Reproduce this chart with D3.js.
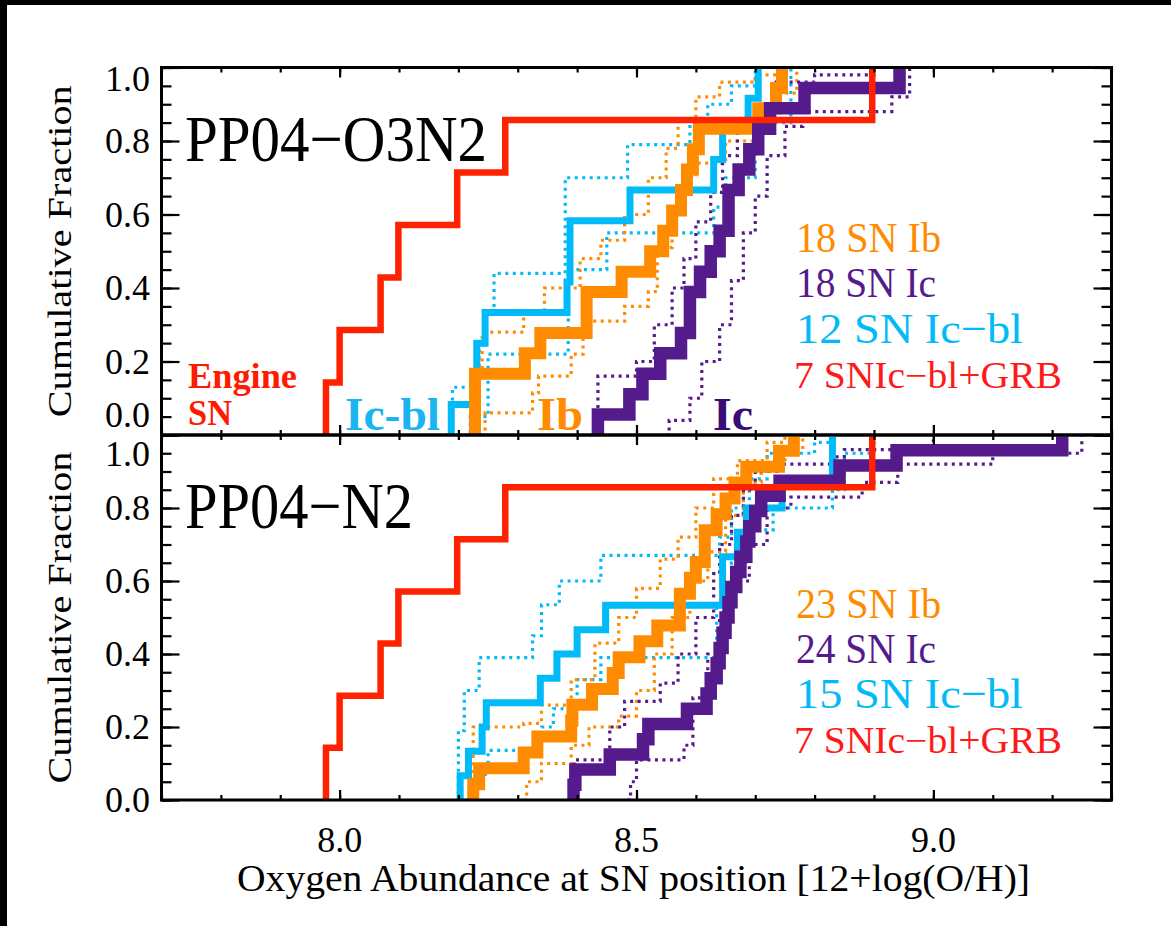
<!DOCTYPE html>
<html>
<head>
<meta charset="utf-8">
<script src="https://cdn.jsdelivr.net/npm/d3@7"></script>
<style>
  html, body { margin: 0; padding: 0; background: #fff; }
  svg { display: block; }
</style>
</head>
<body>
<script>
// axis ticks
const xTicks = [8.0, 8.5, 9.0];
const yTicks = [0.0, 0.2, 0.4, 0.6, 0.8, 1.0];

// PP04-O3N2 : sorted metallicities at SN positions
const o3n2Grb = [7.977, 8.0, 8.069, 8.099, 8.198, 8.279, 8.897];
const o3n2Icbl = [8.188, 8.231, 8.231, 8.245, 8.383, 8.388, 8.388, 8.489, 8.630, 8.645, 8.688, 8.705];
const o3n2Ib = [8.228, 8.228, 8.228, 8.312, 8.338, 8.416, 8.416, 8.475, 8.523, 8.545, 8.56, 8.575, 8.585, 8.595, 8.605, 8.705, 8.735, 8.745];
const o3n2Ic = [8.435, 8.488, 8.51, 8.54, 8.575, 8.59, 8.59, 8.607, 8.625, 8.64, 8.655, 8.655, 8.672, 8.69, 8.705, 8.725, 8.783, 8.943];

// PP04-O3N2 : bootstrap bounds, [abundance, fraction reached there]
const o3n2IcblHi = [[8.185, 0], [8.19, 0.13], [8.225, 0.17], [8.235, 0.25], [8.245, 0.33], [8.26, 0.44], [8.38, 0.70], [8.485, 0.79], [8.59, 0.86], [8.62, 0.9], [8.66, 0.95], [8.70, 1.0]];
const o3n2IcblLo = [[8.21, 0], [8.22, 0.05], [8.25, 0.22], [8.385, 0.45], [8.45, 0.55], [8.63, 0.62], [8.65, 0.7], [8.70, 0.85], [8.76, 1.0]];
const o3n2IbHi = [[8.225, 0], [8.23, 0.15], [8.24, 0.28], [8.31, 0.33], [8.345, 0.40], [8.405, 0.48], [8.44, 0.53], [8.48, 0.60], [8.52, 0.70], [8.55, 0.78], [8.57, 0.86], [8.60, 0.92], [8.64, 0.96], [8.70, 0.98], [8.745, 1.0]];
const o3n2IbLo = [[8.24, 0], [8.245, 0.06], [8.325, 0.115], [8.335, 0.16], [8.39, 0.22], [8.41, 0.31], [8.48, 0.35], [8.52, 0.39], [8.535, 0.51], [8.56, 0.62], [8.58, 0.7], [8.6, 0.74], [8.65, 0.8], [8.7, 0.85], [8.73, 0.93], [8.77, 1.0]];
const o3n2IcHi = [[8.43, 0], [8.435, 0.16], [8.50, 0.2], [8.53, 0.3], [8.56, 0.4], [8.58, 0.48], [8.60, 0.58], [8.625, 0.66], [8.645, 0.76], [8.67, 0.85], [8.70, 0.9], [8.73, 0.96], [8.80, 0.98], [8.90, 1.0]];
const o3n2IcLo = [[8.55, 0], [8.555, 0.04], [8.59, 0.1], [8.61, 0.2], [8.64, 0.3], [8.66, 0.42], [8.68, 0.55], [8.70, 0.65], [8.72, 0.76], [8.75, 0.84], [8.78, 0.88], [8.93, 0.92], [8.96, 1.0]];

// PP04-N2 : sorted metallicities at SN positions
const n2Grb = [7.977, 8.0, 8.069, 8.099, 8.198, 8.279, 8.897];
const n2Icbl = [8.203, 8.217, 8.24, 8.247, 8.338, 8.366, 8.40, 8.448, 8.645, 8.645, 8.67, 8.685, 8.745, 8.83, 8.83];
const n2Ib = [8.225, 8.235, 8.31, 8.333, 8.39, 8.392, 8.425, 8.46, 8.47, 8.505, 8.535, 8.573, 8.573, 8.59, 8.60, 8.615, 8.615, 8.635, 8.65, 8.665, 8.685, 8.74, 8.765];
const n2Ic = [8.394, 8.397, 8.455, 8.511, 8.52, 8.585, 8.618, 8.625, 8.635, 8.64, 8.645, 8.65, 8.655, 8.66, 8.668, 8.675, 8.685, 8.69, 8.70, 8.71, 8.741, 8.842, 8.938, 9.217];

// PP04-N2 : bootstrap bounds
const n2IcblHi = [[8.197, 0], [8.20, 0.19], [8.21, 0.3], [8.235, 0.39], [8.325, 0.45], [8.34, 0.535], [8.37, 0.60], [8.44, 0.67], [8.64, 0.72], [8.66, 0.8], [8.69, 0.88], [8.72, 0.95], [8.80, 0.98], [8.83, 1.0]];
const n2IcblLo = [[8.21, 0], [8.22, 0.07], [8.25, 0.136], [8.34, 0.2], [8.36, 0.25], [8.40, 0.33], [8.44, 0.39], [8.635, 0.53], [8.66, 0.65], [8.69, 0.74], [8.73, 0.80], [8.83, 0.85], [8.85, 0.95], [8.90, 1.0]];
const n2IbHi = [[8.22, 0], [8.225, 0.2], [8.31, 0.21], [8.34, 0.26], [8.39, 0.33], [8.43, 0.43], [8.47, 0.5], [8.50, 0.58], [8.54, 0.66], [8.57, 0.72], [8.60, 0.8], [8.63, 0.88], [8.67, 0.93], [8.72, 0.98], [8.75, 1.0]];
const n2IbLo = [[8.31, 0], [8.315, 0.05], [8.34, 0.1], [8.39, 0.15], [8.42, 0.2], [8.47, 0.23], [8.5, 0.3], [8.53, 0.4], [8.56, 0.5], [8.59, 0.6], [8.62, 0.68], [8.65, 0.78], [8.68, 0.87], [8.71, 0.92], [8.75, 0.96], [8.78, 1.0]];
const n2IcHi = [[8.39, 0], [8.395, 0.11], [8.455, 0.2], [8.48, 0.27], [8.54, 0.32], [8.57, 0.4], [8.60, 0.5], [8.63, 0.62], [8.64, 0.7], [8.66, 0.78], [8.68, 0.85], [8.70, 0.9], [8.74, 0.92], [8.83, 0.94], [8.85, 0.96], [9.0, 1.0]];
const n2IcLo = [[8.485, 0], [8.49, 0.05], [8.50, 0.11], [8.58, 0.15], [8.595, 0.28], [8.62, 0.4], [8.64, 0.5], [8.66, 0.6], [8.69, 0.7], [8.72, 0.8], [8.76, 0.83], [8.88, 0.87], [8.94, 0.92], [9.10, 0.95], [9.25, 1.0]];

// legend counts
const o3n2Legend = ["18 SN Ib", "18 SN Ic", "12 SN Ic\u2212bl", "7 SNIc\u2212bl+GRB"];
const n2Legend = ["23 SN Ib", "24 SN Ic", "15 SN Ic\u2212bl", "7 SNIc\u2212bl+GRB"];

//colors
const cRed = "#ff2200", cOrange = "#ff8c00", cCyan = "#00bbf7", cPurple = "#551a8b";
const serif = "'Liberation Serif', 'Times New Roman', Times, serif";

const width = 1171, height = 926;
const left = 161.5, right = 1111.5;

const svg = d3.select("body").append("svg")
	.attr("width", width)
	.attr("height", height)
	.attr("font-family", serif);

svg.append("rect").attr("width", width).attr("height", height).attr("fill", "#fff");
// black edge of the screenshot
svg.append("rect").attr("width", width).attr("height", 5).attr("fill", "#000");
svg.append("rect").attr("width", 7).attr("height", height).attr("fill", "#000");

const x = d3.scaleLinear().domain([7.7, 9.3]).range([left, right]);

const xMinor = d3.range(7.7, 9.301, 0.1);
const yMinor = d3.range(0, 1.001, 0.05);

const panels = [
	{ id: "o3n2", title: "PP04\u2212O3N2", titleLen: 302, y0: 435, y1: 67.5,
	  grb: o3n2Grb, icbl: o3n2Icbl, ib: o3n2Ib, ic: o3n2Ic,
	  bounds: [[o3n2IcblHi, cCyan], [o3n2IcblLo, cCyan], [o3n2IbHi, cOrange], [o3n2IbLo, cOrange], [o3n2IcHi, cPurple], [o3n2IcLo, cPurple]],
	  legend: o3n2Legend, legendY: [252, 297, 343, 388] },
	{ id: "n2", title: "PP04\u2212N2", titleLen: 228, y0: 800, y1: 435,
	  grb: n2Grb, icbl: n2Icbl, ib: n2Ib, ic: n2Ic,
	  bounds: [[n2IcblHi, cCyan], [n2IcblLo, cCyan], [n2IbHi, cOrange], [n2IbLo, cOrange], [n2IcHi, cPurple], [n2IcLo, cPurple]],
	  legend: n2Legend, legendY: [618, 663, 708, 753] }
];

// empirical cdf -> step points
const cdf = vals => {
	const n = vals.length;
	const pts = [[vals[0], 0]];
	vals.forEach((v, i) => pts.push([v, (i + 1) / n]));
	return pts;
};

panels.forEach((p, pi) => {
	const y = d3.scaleLinear().domain([0, 1]).range([p.y0, p.y1]);
	const g = svg.append("g");

	g.append("clipPath").attr("id", "clip-" + p.id)
		.append("rect").attr("x", left).attr("y", p.y1).attr("width", right - left).attr("height", p.y0 - p.y1);

	const line = d3.line().x(d => x(d[0])).y(d => y(d[1])).curve(d3.curveStepAfter);
	const plot = g.append("g").attr("clip-path", `url(#clip-${p.id})`);

	//dotted bounds first
	p.bounds.forEach(([pts, col]) => {
		plot.append("path").attr("d", line(pts))
			.attr("fill", "none").attr("stroke", col)
			.attr("stroke-width", 3.2).attr("stroke-dasharray", "3,4.5");
	});

	const solids = [[p.icbl, cCyan, 7], [p.ib, cOrange, 12], [p.ic, cPurple, 12.5], [p.grb, cRed, 6.5]];
	solids.forEach(([vals, col, w]) => {
		plot.append("path").attr("d", line(cdf(vals)))
			.attr("fill", "none").attr("stroke", col)
			.attr("stroke-width", w).attr("stroke-linejoin", "miter");
	});

	// ticks on all four sides, pointing inwards
	const tickAxis = (axis, tr) => {
		const a = g.append("g").attr("transform", tr).call(axis);
		a.select(".domain").remove();
		a.selectAll("line").attr("stroke", "#000").attr("stroke-width", 2.2);
		a.selectAll("text").remove();
	};
	tickAxis(d3.axisLeft(y).tickValues(yMinor).tickSize(-10), `translate(${left},0)`);
	tickAxis(d3.axisLeft(y).tickValues(yTicks).tickSize(-18), `translate(${left},0)`);
	tickAxis(d3.axisRight(y).tickValues(yMinor).tickSize(-10), `translate(${right},0)`);
	tickAxis(d3.axisRight(y).tickValues(yTicks).tickSize(-18), `translate(${right},0)`);
	tickAxis(d3.axisBottom(x).tickValues(xMinor).tickSize(-5), `translate(0,${p.y0})`);
	tickAxis(d3.axisBottom(x).tickValues(xTicks).tickSize(-10), `translate(0,${p.y0})`);
	tickAxis(d3.axisTop(x).tickValues(xMinor).tickSize(-5), `translate(0,${p.y1})`);
	tickAxis(d3.axisTop(x).tickValues(xTicks).tickSize(-10), `translate(0,${p.y1})`);

	g.append("rect").attr("x", left).attr("y", p.y1)
		.attr("width", right - left).attr("height", p.y0 - p.y1)
		.attr("fill", "none").attr("stroke", "#000").attr("stroke-width", 3);

	// y labels, end ones nudged inside the panel like IDL does
	g.selectAll("text.ylab").data(yTicks).join("text")
		.attr("class", "ylab")
		.attr("x", 150)
		.attr("y", d => {
			let yy = y(d) + 12;
			if (d === 1) yy += (pi === 0 ? 11 : 19);
			if (d === 0 && pi === 0) yy -= 20;
			return yy;
		})
		.attr("text-anchor", "end")
		.attr("font-family", serif)
		.attr("font-size", 36)
		.text(d => d.toFixed(1));

	g.append("text")
		.attr("transform", `translate(71,${(p.y0 + p.y1) / 2}) rotate(-90)`)
		.attr("text-anchor", "middle")
		.attr("font-family", serif)
		.attr("font-size", 34)
		.attr("textLength", 332).attr("lengthAdjust", "spacingAndGlyphs")
		.text("Cumulative Fraction");

	g.append("text")
		.attr("x", 185).attr("y", p.y1 + 93)
		.attr("font-family", serif)
		.attr("font-size", 66)
		.attr("textLength", p.titleLen).attr("lengthAdjust", "spacingAndGlyphs")
		.text(p.title);

	const legCols = [cOrange, cPurple, cCyan, "#ff1a1a"];
	const legLen = [145, 140, 227, 268];
	p.legend.forEach((t, i) => {
		g.append("text")
			.attr("x", i === 3 ? 794 : 796).attr("y", p.legendY[i])
			.attr("font-family", serif)
			.attr("font-size", i === 3 ? 37 : 43)
			.attr("fill", legCols[i])
			.attr("textLength", legLen[i]).attr("lengthAdjust", "spacingAndGlyphs")
			.text(t);
	});
});

// type labels along the bottom of the upper panel
const typeLabels = [
	{ t: "Engine", x: 188, y: 388, size: 35, len: 109, col: "#ff1a00" },
	{ t: "SN", x: 188, y: 425, size: 35, len: 44, col: "#ff1a00" },
	{ t: "Ic-bl", x: 345, y: 430, size: 46, len: 95, col: "#1ab4f2" },
	{ t: "Ib", x: 537, y: 430, size: 46, len: 46, col: "#ff8c00" },
	{ t: "Ic", x: 713, y: 430, size: 46, len: 40, col: "#3a0a78" }
];
svg.selectAll("text.tl").data(typeLabels).join("text")
	.attr("class", "tl")
	.attr("x", d => d.x).attr("y", d => d.y)
	.attr("font-family", serif)
	.attr("font-size", d => d.size)
	.attr("font-weight", "bold")
	.attr("fill", d => d.col)
	.attr("textLength", d => d.len).attr("lengthAdjust", "spacingAndGlyphs")
	.text(d => d.t);

// x tick labels and title
svg.selectAll("text.xlab").data(xTicks).join("text")
	.attr("class", "xlab")
	.attr("x", d => x(d)).attr("y", 852)
	.attr("text-anchor", "middle")
	.attr("font-family", serif)
	.attr("font-size", 36)
	.text(d => d.toFixed(1));

svg.append("text")
	.attr("x", 237).attr("y", 891)
	.attr("font-family", serif)
	.attr("font-size", 37)
	.attr("textLength", 793).attr("lengthAdjust", "spacingAndGlyphs")
	.text("Oxygen Abundance at SN position [12+log(O/H)]");
</script>
</body>
</html>
